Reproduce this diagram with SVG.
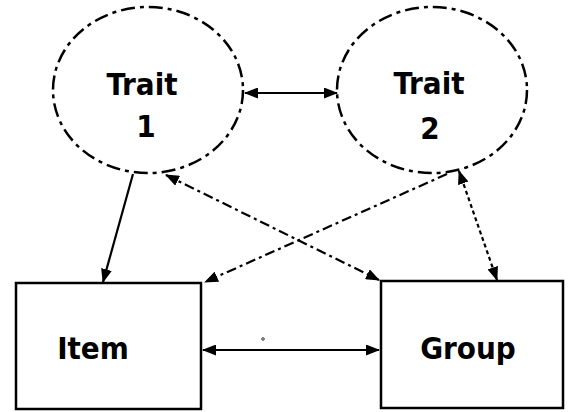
<svg xmlns="http://www.w3.org/2000/svg" width="569" height="412" viewBox="0 0 569 412">
<style>
.trait{fill:#fff;stroke:#000;stroke-width:2.5;stroke-dasharray:14 5 4 5}
.box{fill:#fff;stroke:#000;stroke-width:2.5}
.lbl{font-family:"DejaVu Sans Condensed","DejaVu Sans",sans-serif;font-weight:bold;font-size:31px;fill:#000;text-anchor:middle}
.c{fill:none;stroke:#000;stroke-width:2.2}
.d{stroke-dasharray:10 4 3 4}
.dt{stroke-dasharray:4 3}
</style>
<defs>
<marker id="ah" viewBox="0 0 14 11" refX="13" refY="5.5" markerWidth="14" markerHeight="11" markerUnits="userSpaceOnUse" orient="auto-start-reverse">
<path d="M0,0 L14,5.5 L0,11 Z" fill="#000"/>
</marker>
</defs>
<g id="trait1">
<ellipse class="trait" cx="148" cy="90" rx="95" ry="83"/>
<text class="lbl" x="142" y="95">Trait</text>
<text class="lbl" x="146" y="137">1</text>
</g>
<g id="trait2">
<ellipse class="trait" cx="432" cy="90" rx="95" ry="83"/>
<text class="lbl" x="429" y="94">Trait</text>
<text class="lbl" x="430" y="139">2</text>
</g>
<g id="item">
<rect class="box" x="16" y="283" width="185" height="126"/>
<text class="lbl" x="93" y="359">Item</text>
</g>
<g id="group">
<rect class="box" x="381" y="281" width="182" height="127"/>
<text class="lbl" x="468" y="359">Group</text>
</g>
<g id="connectors">
<line class="c" x1="245" y1="93" x2="337" y2="93" marker-start="url(#ah)" marker-end="url(#ah)"/>
<line class="c" x1="133" y1="174" x2="103" y2="282" marker-end="url(#ah)"/>
<line class="c d" x1="447" y1="174" x2="205" y2="282" marker-end="url(#ah)"/>
<line class="c d" x1="166" y1="175" x2="379" y2="280" marker-start="url(#ah)" marker-end="url(#ah)"/>
<line class="c dt" x1="459" y1="171" x2="497" y2="280" marker-start="url(#ah)" marker-end="url(#ah)"/>
<line class="c" x1="203" y1="350" x2="379" y2="350" marker-start="url(#ah)" marker-end="url(#ah)"/>
<circle cx="263" cy="339" r="1.3" fill="none" stroke="#000" stroke-width="0.8"/>
</g>
</svg>
